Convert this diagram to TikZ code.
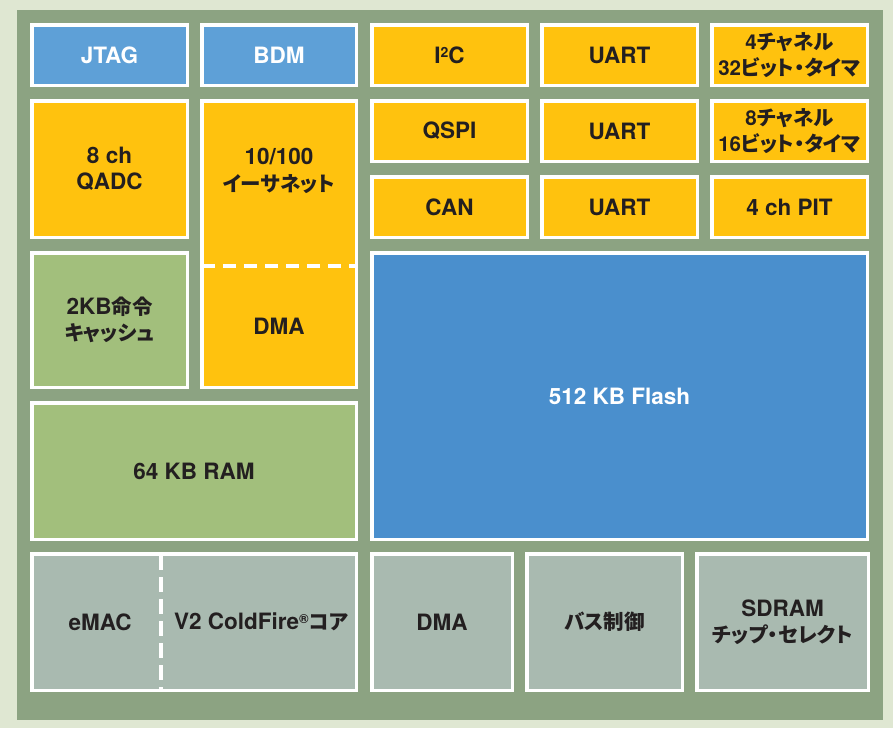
\documentclass[tikz,border=0pt]{standalone}
\usepackage{fontspec}
\setmainfont{TeX Gyre Heros}
\newfontfamily\jpf[RawFeature=+palt]{Noto Sans CJK JP}
\newcommand{\J}[1]{{\jpf\bfseries\fontsize{20.5}{27}\selectfont #1}}
\definecolor{bgc}{HTML}{DFE7D2}
\definecolor{panelc}{HTML}{8CA382}
\definecolor{blues}{HTML}{5EA0D7}
\definecolor{blueb}{HTML}{4A8FCD}
\definecolor{yel}{HTML}{FFC20E}
\definecolor{grn}{HTML}{A2BF7C}
\definecolor{gry}{HTML}{A9BAB0}
\definecolor{txt}{HTML}{231F20}
\begin{document}
\begin{tikzpicture}[x=1pt,y=-1pt,
  blk/.style={draw=white,line width=3.5pt,inner sep=0pt,outer sep=0pt,
    text=txt,align=center,font=\bfseries\fontsize{22.5}{26.5}\selectfont},
  lbl/.style={inner sep=0pt,text=txt,align=center,font=\bfseries\fontsize{22.5}{26.5}\selectfont},
  sep/.style={draw=white,line width=3.5pt,dash pattern=on 13pt off 8pt}]
\useasboundingbox (0,0) rectangle (893,728);
\fill[bgc] (0,0) rectangle (893,728);
\fill[panelc] (17,10) rectangle (883,720);
% row 1
\node[blk,fill=blues,text=white,minimum width=155.5pt,minimum height=60.5pt] (jtag) at (109.5,55) {JTAG};
\node[blk,fill=blues,text=white,minimum width=154.5pt,minimum height=60.5pt] (bdm) at (279,55) {BDM};
\node[blk,fill=yel,minimum width=155.5pt,minimum height=60.5pt] (i2c) at (449.5,55) {I\raisebox{0.45ex}{\fontsize{14}{14}\selectfont 2}C};
\node[blk,fill=yel,minimum width=155.5pt,minimum height=60.5pt] (uart1) at (619.5,55) {UART};
\node[blk,fill=yel,minimum width=155.5pt,minimum height=60.5pt,font=\bfseries\fontsize{20.5}{26}\selectfont] (tim1) at (789.5,55) {4\J{チャネル}\\32\J{ビット・タイマ}};
% row 2
\node[blk,fill=yel,minimum width=155.5pt,minimum height=60.5pt] (qspi) at (449.5,131) {QSPI};
\node[blk,fill=yel,minimum width=155.5pt,minimum height=60.5pt] (uart2) at (619.5,131) {UART};
\node[blk,fill=yel,minimum width=155.5pt,minimum height=60.5pt,font=\bfseries\fontsize{20.5}{26}\selectfont] (tim2) at (789.5,131) {8\J{チャネル}\\16\J{ビット・タイマ}};
% row 3
\node[blk,fill=yel,minimum width=155.5pt,minimum height=60.5pt] (can) at (449.5,207) {CAN};
\node[blk,fill=yel,minimum width=155.5pt,minimum height=60.5pt] (uart3) at (619.5,207) {UART};
\node[blk,fill=yel,minimum width=155.5pt,minimum height=60.5pt] (pit) at (789.5,207) {4 ch PIT};
% left blocks
\node[blk,fill=yel,minimum width=155.5pt,minimum height=136.5pt] (qadc) at (109.5,169) {8 ch\\QADC};
\node[blk,fill=yel,minimum width=154.5pt,minimum height=286.5pt] (eth) at (279,244) {};
\draw[sep] (eth.west |- 0,266) -- (eth.east |- 0,266);
\node[lbl] (ethl) at (279,171) {10/100\\\J{イーサネット}};
\node[lbl] (ethdma) at (279,326) {DMA};
\node[blk,fill=grn,minimum width=155.5pt,minimum height=134.5pt] (cache) at (109.5,320) {2KB\J{命令}\\\J{キャッシュ}};
\node[blk,fill=grn,minimum width=324.5pt,minimum height=136.5pt] (ram) at (194,471) {64 KB RAM};
\node[blk,fill=blueb,text=white,minimum width=495.5pt,minimum height=286.5pt] (flash) at (619.5,396) {512 KB Flash};
% bottom row
\node[blk,fill=gry,minimum width=324.5pt,minimum height=136.5pt] (core) at (194,622) {};
\draw[sep,dash pattern=on 15pt off 7pt] (161,555) -- (161,689);
\node[lbl] (emac) at (100,622) {eMAC};
\node[lbl] (cf) at (261,622) {V2 ColdFire\raisebox{0.5ex}{\fontsize{13}{13}\selectfont ®}\J{コア}};
\node[blk,fill=gry,minimum width=140.5pt,minimum height=136.5pt] (dma) at (442,622) {DMA};
\node[blk,fill=gry,minimum width=155.5pt,minimum height=136.5pt] (bus) at (604.5,622) {\J{バス制御}};
\node[blk,fill=gry,minimum width=171.5pt,minimum height=136.5pt] (sdram) at (782.5,622) {SDRAM\\\J{チップ・セレクト}};
\end{tikzpicture}
\end{document}
